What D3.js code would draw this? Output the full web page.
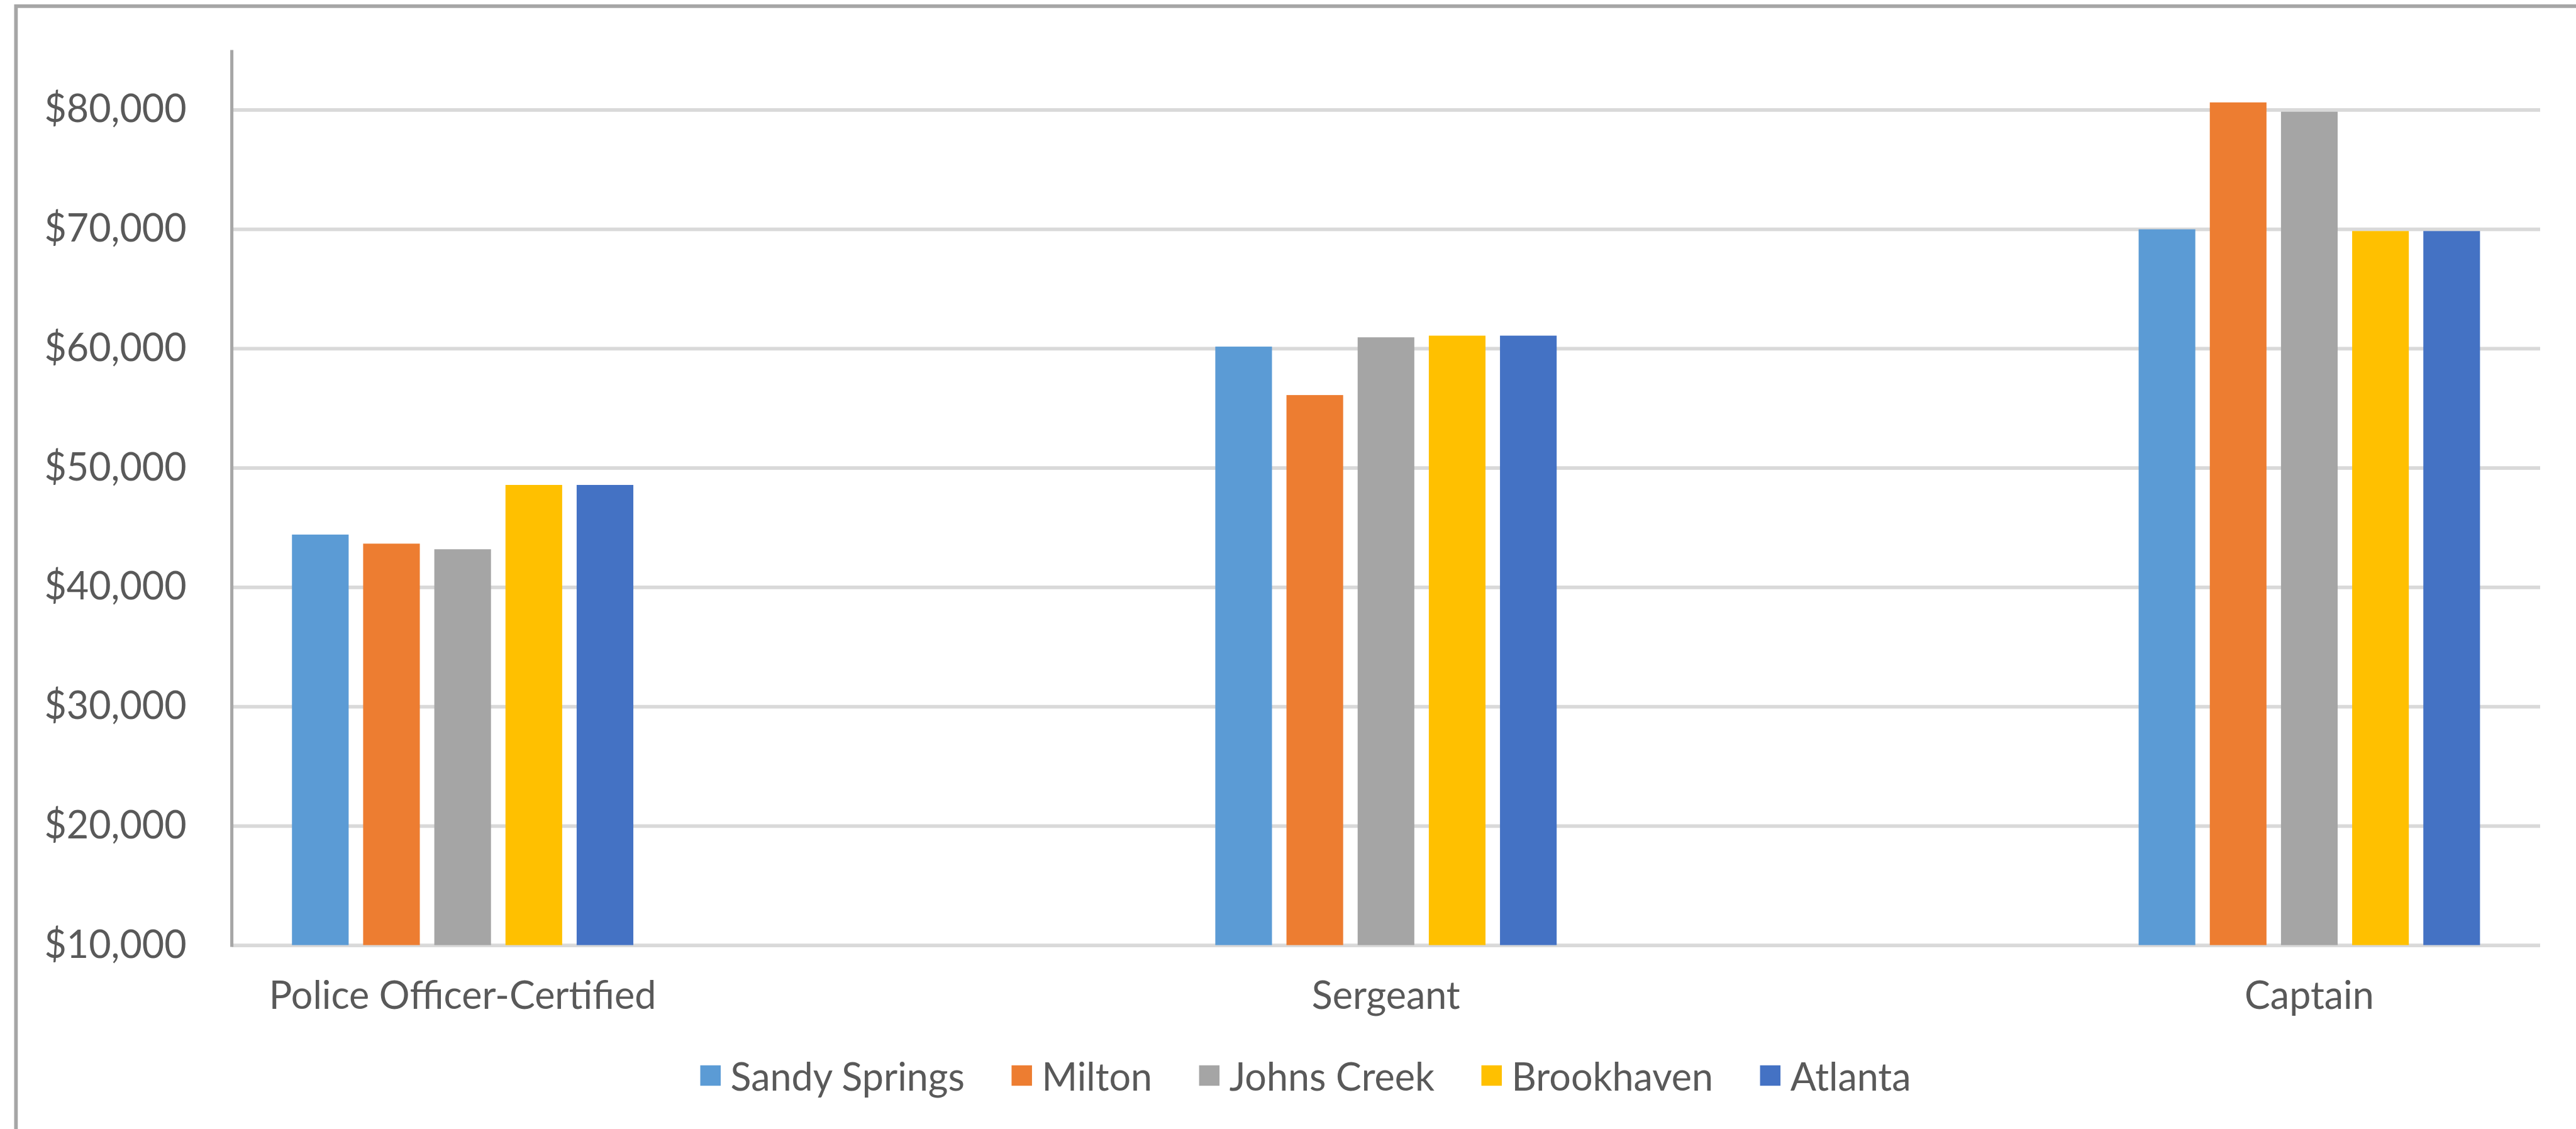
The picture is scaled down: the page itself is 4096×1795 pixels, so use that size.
<!DOCTYPE html>
<html>
<head>
<meta charset="utf-8">
<script src="https://cdn.jsdelivr.net/npm/d3@7"></script>
<style>
  html, body { margin: 0; padding: 0; background: #ffffff; overflow: hidden; }
  svg { display: block; }
  text { font-family: Lato, "Open Sans", sans-serif; fill: #595959; }
</style>
</head>
<body>
<svg id="chart" width="4096" height="1795"></svg>
<script>
// Positions and their salary-table data
const categories = ["Police Officer-Certified", "Sergeant", "Captain"];
const seriesNames = ["Sandy Springs", "Milton", "Johns Creek", "Brookhaven", "Atlanta"];
const sandySprings = [44400, 60150, 69980];
const milton = [43640, 56090, 80615];
const johnsCreek = [43170, 60930, 79835];
const brookhaven = [48560, 61070, 69835];
const atlanta = [48560, 61070, 69835];
const seriesColors = ["#5b9bd5", "#ed7d31", "#a5a5a5", "#ffc000", "#4472c4"];
const yTicks = [10000, 20000, 30000, 40000, 50000, 60000, 70000, 80000];

const seriesValues = [sandySprings, milton, johnsCreek, brookhaven, atlanta];
const rows = categories.map((c, i) => ({
  category: c,
  values: seriesNames.map((s, j) => ({ series: s, value: seriesValues[j][i] }))
}));

const svg = d3.select("#chart");
const W = 4096, H = 1795;

// Layout (px)
const plotLeft = 368.6, plotRight = 4039, plotBottom = 1502.6, plotTop = 79.6;
const fontSize = 61;

// Outer chart frame (top and left edges visible)
svg.append("rect")
  .attr("x", 25.4).attr("y", 9.8)
  .attr("width", W + 50).attr("height", H + 50)
  .attr("fill", "none").attr("stroke", "#a6a6a6").attr("stroke-width", 5.8);

const y = d3.scaleLinear().domain([10000, 85000]).range([plotBottom, plotTop]);
const x0 = d3.scalePoint().domain(categories).range([plotLeft, plotRight]).padding(0.25);
const groupWidth = 542.8;
const x1 = d3.scaleBand().domain(seriesNames)
  .range([-groupWidth / 2, groupWidth / 2])
  .paddingInner(0.2036).paddingOuter(0);
const color = d3.scaleOrdinal().domain(seriesNames).range(seriesColors);

// Gridlines + value labels via a left axis
const yAxis = d3.axisLeft(y)
  .tickValues(yTicks)
  .tickSize(-(plotRight - plotLeft))
  .tickPadding(72)
  .tickFormat(d => "$" + d3.format(",")(d));

const gAxis = svg.append("g")
  .attr("transform", `translate(${plotLeft},0)`)
  .call(yAxis);
gAxis.select(".domain").remove();
gAxis.selectAll(".tick line")
  .attr("stroke", "#d9d9d9").attr("stroke-width", 5.8);
gAxis.selectAll(".tick text")
  .attr("font-size", fontSize)
  .attr("fill", "#595959")
  .style("font-family", "Lato, 'Open Sans', sans-serif");

// Bars
const groups = svg.append("g").selectAll("g")
  .data(rows).join("g")
  .attr("transform", d => `translate(${x0(d.category)},0)`);

groups.selectAll("rect")
  .data(d => d.values).join("rect")
  .attr("x", d => x1(d.series))
  .attr("width", x1.bandwidth())
  .attr("y", d => y(d.value))
  .attr("height", d => y(10000) - y(d.value))
  .attr("fill", d => color(d.series));

// Vertical axis line
svg.append("line")
  .attr("x1", plotLeft).attr("x2", plotLeft)
  .attr("y1", plotTop).attr("y2", plotBottom + 2.9)
  .attr("stroke", "#a6a6a6").attr("stroke-width", 5);

// Category labels
svg.append("g").selectAll("text")
  .data(categories).join("text")
  .attr("x", d => x0(d))
  .attr("y", 1604)
  .attr("text-anchor", "middle")
  .attr("font-size", fontSize)
  .text(d => d);

// Legend
const legend = svg.append("g");
const swatch = 32.5, swatchGap = 15.6, itemGap = 74.5, legendCy = 1710;
let cursor = 0;
seriesNames.forEach((name, i) => {
  const item = legend.append("g").attr("transform", `translate(${cursor},0)`);
  item.append("rect")
    .attr("x", 0).attr("y", legendCy - swatch / 2)
    .attr("width", swatch).attr("height", swatch)
    .attr("fill", color(name));
  const t = item.append("text")
    .attr("x", swatch + swatchGap)
    .attr("y", legendCy)
    .attr("dominant-baseline", "central")
    .attr("font-size", fontSize)
    .text(name);
  cursor += swatch + swatchGap + t.node().getComputedTextLength() + (i < seriesNames.length - 1 ? itemGap : 0);
});
legend.attr("transform", `translate(${2076 - cursor / 2},0)`);
</script>
</body>
</html>
